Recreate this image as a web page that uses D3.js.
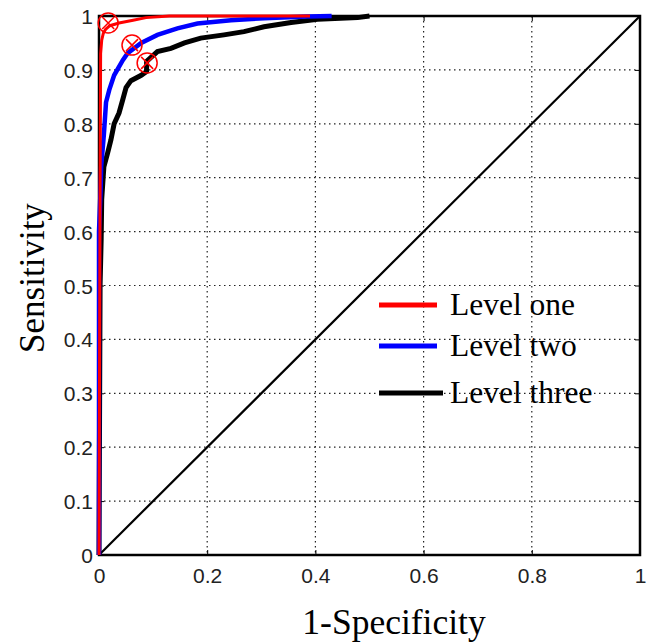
<!DOCTYPE html>
<html>
<head>
<meta charset="utf-8">
<script src="https://cdn.jsdelivr.net/npm/d3@7"></script>
<style>
  body { margin: 0; background: #fff; }
</style>
</head>
<body>
<div id="chart"></div>
<script>
// ROC curves, [1-specificity, sensitivity]
const levelOne = [[0,0],[0.002,0.68],[0.003,0.93],[0.005,0.955],[0.008,0.968],[0.012,0.975],[0.02,0.982],
  [0.037,0.987],[0.063,0.992],[0.087,0.997],[0.13,1],[0.39,1]];
const levelTwo = [[0,0],[0,0.6],[0.003,0.68],[0.004,0.72],[0.009,0.78],[0.013,0.84],[0.019,0.863],[0.028,0.89],
  [0.044,0.918],[0.053,0.931],[0.078,0.95],[0.108,0.965],[0.145,0.977],[0.182,0.986],[0.244,0.992],
  [0.305,0.996],[0.385,0.999],[0.43,1]];
const levelThree = [[0,0],[0.002,0.5],[0.004,0.586],[0.005,0.66],[0.009,0.72],[0.016,0.746],[0.022,0.77],
  [0.028,0.8],[0.037,0.82],[0.044,0.845],[0.05,0.867],[0.059,0.88],[0.078,0.89],[0.088,0.897],[0.088,0.916],
  [0.108,0.934],[0.133,0.94],[0.158,0.95],[0.188,0.959],[0.231,0.965],[0.268,0.971],[0.305,0.98],
  [0.355,0.988],[0.404,0.994],[0.478,0.997],[0.5,1]];
const optimalPoints = [[0.017,0.987],[0.061,0.946],[0.089,0.913]];
const chanceLine = [[0,0],[1,1]];
const seriesNames = ["Level one", "Level two", "Level three"];
const seriesColors = ["#ff0000", "#0000ff", "#000000"];
const xTicks = [0, 0.2, 0.4, 0.6, 0.8, 1];
const yTicks = [0, 0.1, 0.2, 0.3, 0.4, 0.5, 0.6, 0.7, 0.8, 0.9, 1];

const W = 648, H = 642;
const margin = {top: 16, right: 8, bottom: 87, left: 99};
const width = W - margin.left - margin.right;
const height = H - margin.top - margin.bottom;
const sans = "'Liberation Sans', Arial, sans-serif";
const serif = "'Liberation Serif', 'Times New Roman', serif";

const svg = d3.select("#chart").append("svg").attr("width", W).attr("height", H);
const g = svg.append("g").attr("transform", "translate(" + margin.left + "," + margin.top + ")");

const x = d3.scaleLinear().domain([0, 1]).range([0, width]);
const y = d3.scaleLinear().domain([0, 1]).range([height, 0]);

// grid
g.append("g").selectAll("line").data(xTicks.slice(1, -1)).enter().append("line")
  .attr("x1", d => x(d)).attr("x2", d => x(d)).attr("y1", 0).attr("y2", height)
  .attr("stroke", "#222").attr("stroke-width", 1.2).attr("stroke-dasharray", "1.5,3.5");
g.append("g").selectAll("line").data(yTicks.slice(1, -1)).enter().append("line")
  .attr("y1", d => y(d)).attr("y2", d => y(d)).attr("x1", 0).attr("x2", width)
  .attr("stroke", "#222").attr("stroke-width", 1.2).attr("stroke-dasharray", "1.5,3.5");

// axes (ticks inward)
const xAxis = g.append("g").attr("transform", "translate(0," + height + ")")
  .call(d3.axisBottom(x).tickValues(xTicks).tickFormat(d3.format("")).tickSizeInner(-5).tickSizeOuter(0));
const yAxis = g.append("g")
  .call(d3.axisLeft(y).tickValues(yTicks).tickFormat(d3.format("")).tickSizeInner(-5).tickSizeOuter(0));
[xAxis, yAxis].forEach(a => {
  a.select(".domain").remove();
  a.selectAll(".tick line").attr("stroke", "#000");
  a.selectAll(".tick text").attr("font-family", sans).attr("font-size", 21).attr("fill", "#222");
});
xAxis.selectAll(".tick text").attr("y", 28).attr("dy", 0);
yAxis.selectAll(".tick text").attr("x", -6).attr("dy", "0.36em");
g.append("g").attr("transform", "translate(" + width + ",0)")
  .call(d3.axisRight(y).tickValues(yTicks).tickFormat("").tickSizeInner(-5).tickSizeOuter(0))
  .call(a => a.select(".domain").remove());
g.append("g")
  .call(d3.axisTop(x).tickValues(xTicks).tickFormat("").tickSizeInner(-5).tickSizeOuter(0))
  .call(a => a.select(".domain").remove());

// chance diagonal
const line = d3.line().x(d => x(d[0])).y(d => y(d[1]));
g.append("path").datum(chanceLine).attr("d", line)
  .attr("fill", "none").attr("stroke", "#000").attr("stroke-width", 2.2);

// frame
g.append("rect").attr("width", width).attr("height", height)
  .attr("fill", "none").attr("stroke", "#000").attr("stroke-width", 2.5);

// curves
const curves = [levelThree, levelTwo, levelOne];
const curveColors = [seriesColors[2], seriesColors[1], seriesColors[0]];
const curveWidths = [5, 4.5, 3];
curves.forEach((c, i) => {
  g.append("path").datum(c).attr("d", line)
    .attr("fill", "none").attr("stroke", curveColors[i]).attr("stroke-width", curveWidths[i])
    .attr("stroke-linejoin", "miter");
});

// optimal cut-off markers: circle with x
const r = 10, k = 6;
const mk = g.append("g").selectAll("g").data(optimalPoints).enter().append("g")
  .attr("transform", d => "translate(" + x(d[0]) + "," + y(d[1]) + ")");
mk.append("circle").attr("r", r).attr("fill", "none").attr("stroke", "#ff0000").attr("stroke-width", 1.5);
mk.append("path").attr("d", "M" + (-k) + "," + (-k) + "L" + k + "," + k + "M" + (-k) + "," + k + "L" + k + "," + (-k))
  .attr("stroke", "#ff0000").attr("stroke-width", 1.5);

// legend
const legend = svg.append("g").selectAll("g").data(seriesNames).enter().append("g")
  .attr("transform", (d, i) => "translate(379," + [305, 346, 393][i] + ")");
legend.append("line").attr("x1", 0).attr("x2", (d, i) => i === 2 ? 64 : 58).attr("y1", 0).attr("y2", 0)
  .attr("stroke", (d, i) => seriesColors[i]).attr("stroke-width", 5);
legend.append("text").attr("x", 71).attr("y", 10).text(d => d)
  .attr("font-family", serif).attr("font-size", 31.5).attr("fill", "#000");

// axis titles
svg.append("text").attr("x", 394).attr("y", 634).attr("text-anchor", "middle")
  .attr("font-family", serif).attr("font-size", 35.5).text("1-Specificity");
svg.append("text").attr("transform", "translate(44,278) rotate(-90)").attr("text-anchor", "middle")
  .attr("font-family", serif).attr("font-size", 35).text("Sensitivity");
</script>
</body>
</html>
